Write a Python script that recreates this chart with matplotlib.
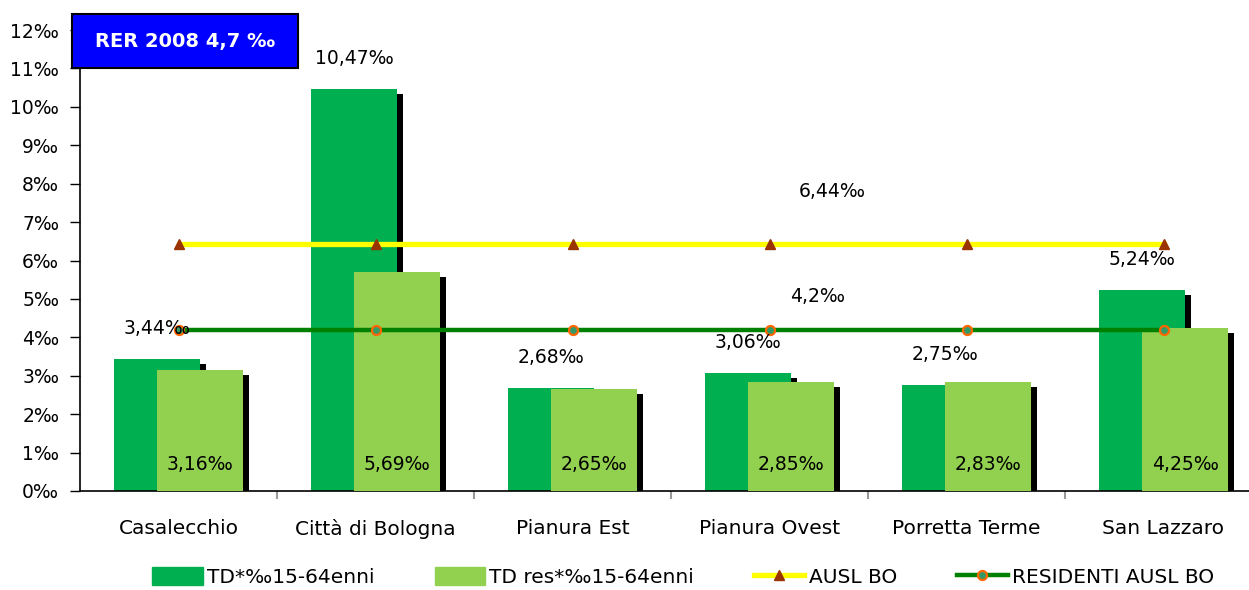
import matplotlib
matplotlib.use("Agg")
import matplotlib.pyplot as plt
from matplotlib.patches import Rectangle, Patch
from matplotlib.lines import Line2D
from matplotlib import transforms
import numpy as np

categories = ["Casalecchio", "Città di Bologna", "Pianura Est", "Pianura Ovest", "Porretta Terme", "San Lazzaro"]
td = [3.44, 10.47, 2.68, 3.06, 2.75, 5.24]
td_res = [3.16, 5.69, 2.65, 2.85, 2.83, 4.25]
ausl_bo = 6.44
residenti_ausl_bo = 4.2
td_labels = ["3,44‰", "10,47‰", "2,68‰", "3,06‰", "2,75‰", "5,24‰"]
res_labels = ["3,16‰", "5,69‰", "2,65‰", "2,85‰", "2,83‰", "4,25‰"]
ytick_vals = list(range(0, 13))
ytick_labels = [f"{v}‰" for v in ytick_vals]

plt.rcParams['font.family'] = ['DejaVu Sans']

W, H = 1249, 590
fig = plt.figure(figsize=(W/100, H/100), dpi=100)
ax = fig.add_axes([80/W, 1-491/H, (1262-80)/W, (491-30)/H])

x = np.arange(len(categories))
bw = 0.437
off_d, off_l = -0.107, 0.11
dark = "#00B050"
light = "#92D050"

# shadow offset (6px right, 5px down)
shadow = transforms.offset_copy(ax.transData, fig=fig, x=6, y=-5, units='dots')

ax.bar(x+off_d, td, bw, color='black', transform=shadow, zorder=1)
ax.bar(x+off_d, td, bw, color=dark, zorder=2)
ax.bar(x+off_l, td_res, bw, color='black', transform=shadow, zorder=3)
ax.bar(x+off_l, td_res, bw, color=light, zorder=4)

tri_kw = dict(color='#FFFF00', lw=3.8, marker='^', ms=6.5, mfc='#993300', mec='#993300')
circ_kw = dict(color='#008000', lw=3.2, marker='o', ms=6.5, mfc='#339966', mec='#FF6600', mew=1.6)
ax.plot(x, [ausl_bo]*len(x), zorder=5, **tri_kw)
ax.plot(x, [residenti_ausl_bo]*len(x), zorder=5, **circ_kw)

fs = 13.5
for i in range(len(x)):
    ax.annotate(td_labels[i], (x[i]+off_d, td[i]), xytext=(0, 22), textcoords='offset points',
                ha='center', va='center', fontsize=fs, zorder=6)
    ax.annotate(res_labels[i], (x[i]+off_l, 0), xytext=(0, 19), textcoords='offset points',
                ha='center', va='center', fontsize=fs, zorder=6)

ax.text(3.317, 7.79, "6,44‰", ha='center', va='center', fontsize=fs, zorder=6)
ax.text(3.246, 5.05, "4,2‰", ha='center', va='center', fontsize=fs, zorder=6)

ax.set_xlim(-0.5, len(x)-0.5)
ax.set_ylim(0, 12)
ax.set_yticks(ytick_vals)
ax.set_yticklabels(ytick_labels, fontsize=fs)
ax.set_xticks(x)
ax.set_xticklabels(categories, fontsize=14.5)
ax.tick_params(axis='x', length=0, pad=20)
ax.set_xticks(np.arange(0.5, len(x)-0.5, 1), minor=True)
ax.tick_params(axis='x', which='minor', length=6, color='#999999', width=1.5)
ax.tick_params(axis='y', length=7, width=1, pad=8)
for s in ['top', 'right']:
    ax.spines[s].set_visible(False)
ax.spines['left'].set_linewidth(1.2)
ax.spines['bottom'].set_linewidth(1.2)

# RER box
fig.patches.append(Rectangle((72/W, 1-68/H), (298-72)/W, (68-14)/H, transform=fig.transFigure,
                             facecolor='#0000FF', edgecolor='black', lw=1.5, zorder=10))
fig.text(185/W, 1-42/H, "RER 2008 4,7 ‰", color='white', fontsize=14, fontweight='bold',
         ha='center', va='center', zorder=11)

handles = [Patch(color=dark), Patch(color=light),
           Line2D([], [], **tri_kw), Line2D([], [], **circ_kw)]
labels = ["TD*‰15-64enni", "TD res*‰15-64enni", "AUSL BO", "RESIDENTI AUSL BO"]
fig.legend(handles, labels, loc='center', bbox_to_anchor=(683/W, 1-577/H), ncol=4, frameon=False,
           fontsize=14.5, handlelength=2.5, handletextpad=0.2, columnspacing=3.0, handleheight=1.0)

fig.savefig("out.png", dpi=100)
